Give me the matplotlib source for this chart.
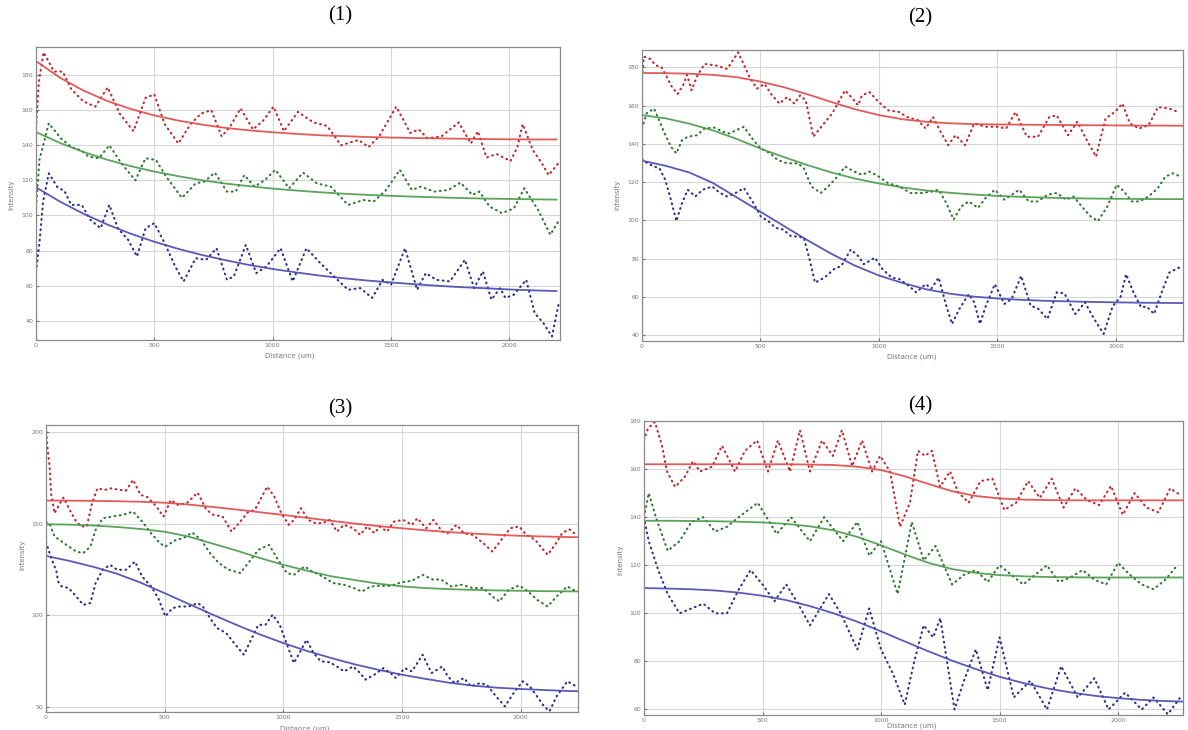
import numpy as np
import matplotlib
matplotlib.use("Agg")
import matplotlib.pyplot as plt

# ---- painel (1) ----
p1_red_x = [0, 12, 32, 76, 113, 149, 200, 251, 303, 354, 412, 463, 500, 544, 602, 653, 697, 741, 785, 822,
            865, 917, 960, 1004, 1048, 1107, 1173, 1231, 1289, 1363, 1406, 1450, 1523, 1582, 1618, 1655, 1713, 1787, 1838, 1868,
            1904, 1947, 2006, 2035, 2057, 2101, 2137, 2167, 2210]
p1_red_y = [150, 176, 193, 182, 182, 172, 165, 162, 173, 158, 148, 167, 169, 152, 141, 152, 158, 160, 145, 151,
            161, 149, 154, 162, 148, 159, 153, 151, 140, 143, 139, 145, 162, 147, 149, 144, 145, 153, 141, 148,
            133, 135, 131, 139, 152, 137, 130, 123, 130]
p1_green_x = [0, 15, 54, 105, 149, 193, 222, 266, 310, 361, 420, 463, 507, 551, 617, 675, 712, 756, 807, 844,
              880, 924, 968, 1012, 1070, 1129, 1187, 1246, 1319, 1385, 1428, 1480, 1538, 1589, 1626, 1684, 1743, 1794, 1845, 1874,
              1918, 1969, 2020, 2064, 2123, 2174, 2210]
p1_green_y = [105, 132, 152.5, 144, 139, 137, 133.5, 132.6, 140, 129.7, 120, 132.6, 131.6, 122, 110, 118.3, 119.3, 124.4, 113.6, 113.6,
              123, 116.4, 120.2, 126, 115.5, 124.4, 118.3, 116.4, 106, 108.8, 108, 114.5, 126, 114.5, 116.4, 113.6, 114.5, 118.7, 111.7, 113.6,
              105, 101.3, 104, 115.5, 103, 89, 97]
p1_blue_x = [0, 15, 30, 54, 91, 120, 149, 193, 230, 273, 310, 346, 390, 427, 463, 500, 544, 588, 624, 675,
             719, 763, 807, 836, 887, 931, 975, 1034, 1085, 1143, 1202, 1260, 1319, 1370, 1421, 1465, 1501, 1560, 1611, 1648,
             1692, 1750, 1813, 1852, 1889, 1925, 1962, 1984, 2020, 2072, 2108, 2145, 2181, 2210]
p1_blue_y = [68, 85, 108, 124, 116, 114, 106, 106, 97.5, 92.7, 106, 92.7, 86, 76.6, 92.7, 95.6, 84.2, 71, 62.4, 75.6,
             74.7, 81.3, 63.3, 65.2, 83.2, 67.1, 71, 81.3, 62.4, 81.3, 72.8, 65.2, 57.6, 58.6, 53, 63.3, 60.5, 81.3, 57.6, 67.1,
             63.3, 62.4, 74.7, 58.6, 68.1, 52, 58.6, 53, 54.8, 63.3, 44.3, 38.6, 31, 50]
p1_fit_red = [188, 178.6, 171.2, 165.3, 160.7, 157.0, 154.1, 151.8, 149.9, 148.5, 147.4, 146.5, 145.7, 145.2, 144.7,
              144.4, 144.1, 143.9, 143.7, 143.5, 143.4, 143.3, 143.3]
p1_fit_green = [147.5, 141.4, 136.2, 131.8, 128.1, 125.0, 122.4, 120.1, 118.2, 116.7, 115.3, 114.2, 113.2, 112.4, 111.7,
                111.2, 110.7, 110.3, 109.9, 109.6, 109.4, 109.2, 109.0]
p1_fit_blue = [116, 108, 101, 94.9, 89.6, 85.0, 81.0, 77.5, 74.5, 71.8, 69.5, 67.5, 65.7, 64.2, 62.9,
               61.8, 60.8, 59.9, 59.1, 58.5, 57.8, 57.3, 56.9]

# ---- painel (2) ----
p2_red_x = [0, 8, 35, 58, 82, 98, 125, 150, 175, 190, 209, 235, 264, 310, 359, 406, 454, 485, 517, 549,
            580, 612, 643, 667, 691, 723, 762, 802, 833, 857, 889, 912, 928, 960, 999, 1039, 1086, 1118, 1165, 1197,
            1228, 1260, 1292, 1323, 1363, 1402, 1450, 1497, 1537, 1576, 1624, 1671, 1719, 1750, 1798, 1837, 1877, 1916, 1956, 1995,
            2027, 2059, 2098, 2138, 2177, 2225, 2264]
p2_red_y = [175, 185.5, 184.3, 181, 180, 176.5, 170, 166, 171, 176, 168, 176, 181.7, 181, 179.1, 187.8, 174.8, 168.8, 171.3, 165.3,
            161, 164.4, 161, 165.3, 162.7, 143.7, 149.7, 155.8, 162.7, 167.9, 163.6, 160.1, 165.3, 167, 161.8, 157.5, 156.6, 154, 152.3, 148,
            154, 146.3, 139.3, 144.5, 139.3, 150.6, 148.9, 148.9, 148, 156.6, 143.7, 143.7, 154, 154.9, 144.5, 151.5, 141.9, 133.3, 153.2, 156.6,
            161, 150.6, 148, 149.7, 159.2, 158.4, 156.6]
p2_green_x = [0, 20, 51, 90, 122, 145, 169, 193, 232, 264, 304, 343, 367, 430, 470, 501, 541, 572, 612, 659,
              683, 715, 754, 786, 825, 857, 896, 928, 960, 999, 1039, 1086, 1134, 1181, 1221, 1252, 1284, 1315, 1347, 1379,
              1418, 1450, 1489, 1529, 1560, 1592, 1632, 1671, 1711, 1750, 1790, 1821, 1861, 1893, 1924, 1964, 2003, 2035, 2066, 2098,
              2138, 2177, 2209, 2240, 2272]
p2_green_y = [148, 156, 158.4, 147, 138.5, 135, 141.9, 143.7, 144.5, 148, 148.5, 146.3, 145.4, 148.9, 141.9, 137.6, 135, 131.6, 129.8, 129.8,
              127.2, 117.7, 114.3, 117.7, 122.9, 128.1, 125.5, 123.8, 125.5, 122.9, 119.4, 117.7, 114.3, 114.3, 115, 116, 109.1, 100.4, 107.3, 109.9,
              106.5, 111.7, 116, 110.8, 113.4, 116, 109.9, 109.9, 113.4, 114.3, 110.8, 112.5, 106.5, 102.1, 99.6, 107.3, 118.6, 115, 109.9, 109.9,
              112.5, 116.9, 122.9, 124.6, 122.9]
p2_blue_x = [0, 11, 51, 74, 98, 122, 145, 169, 193, 225, 256, 296, 327, 359, 391, 430, 470, 501, 533, 564,
             596, 628, 659, 683, 707, 730, 770, 810, 841, 881, 912, 936, 983, 1015, 1054, 1086, 1126, 1157, 1197, 1221,
             1252, 1284, 1308, 1339, 1379, 1402, 1426, 1450, 1489, 1529, 1560, 1600, 1640, 1671, 1711, 1750, 1782, 1829, 1869, 1908,
             1948, 1987, 2019, 2043, 2074, 2106, 2130, 2161, 2193, 2225, 2264, 2280]
p2_blue_y = [132, 130.7, 128.1, 127.2, 121.2, 110.8, 99.6, 109.1, 116, 112.5, 116, 117.7, 114.5, 112.5, 114, 116.9, 109.1, 102.1, 99.6, 96.1,
             95.2, 91.8, 91.5, 90.9, 79.7, 67.5, 70.1, 74.5, 76.2, 84.8, 81.4, 77.1, 80.5, 74.5, 70.1, 69.3, 65.8, 62.4, 66.7, 64.4,
             70.1, 55.4, 45.9, 53.7, 61.5, 57.2, 45.9, 55, 66.7, 56.3, 59, 71, 55.4, 54, 48.5, 62.4, 62, 51.1, 57.2, 48.5,
             40.7, 55.4, 59.8, 71.9, 62.4, 54.6, 55, 51.1, 62.4, 72.7, 75.3, 74.5]
p2_fit_red = [177, 176.9, 176.6, 176, 174.8, 172.5, 169.5, 165.8, 161.8, 158, 155, 152.8, 151.5, 150.7, 150.3, 150.1,
              150, 149.9, 149.8, 149.7, 149.6, 149.5, 149.5, 149.4]
p2_fit_green = [155, 153.3, 150.5, 147, 142.5, 137.5, 133, 128.8, 125, 121.8, 119.3, 117.2, 115.6, 114.4, 113.5, 112.8,
                112.3, 111.9, 111.6, 111.4, 111.3, 111.2, 111.1, 111.1]
p2_fit_blue = [131.2, 128.5, 125, 119.5, 112, 104.5, 97, 89.5, 82.5, 76.3, 71.2, 67.3, 64, 61.7, 60.2, 59.2,
               58.5, 58, 57.7, 57.4, 57.2, 57.0, 56.9, 56.8]

# ---- painel (3) ----
p3_red_x = [0, 5, 10, 15, 22, 36, 59, 74, 96, 127, 149, 172, 194, 217, 247, 277, 307, 337, 367, 398,
            428, 465, 495, 526, 556, 593, 639, 676, 706, 744, 782, 819, 849, 880, 910, 932, 962, 992, 1023, 1045,
            1075, 1105, 1136, 1166, 1196, 1226, 1256, 1294, 1324, 1354, 1384, 1407, 1437, 1467, 1505, 1542, 1565, 1602, 1633, 1670,
            1693, 1730, 1761, 1798, 1843, 1881, 1919, 1956, 1994, 2024, 2062, 2084, 2114, 2145, 2175, 2205, 2235]
p3_red_y = [203, 193, 187, 182, 166, 155.7, 161.2, 164.3, 158.5, 151.2, 148.5, 148.5, 161.2, 169.4, 168.5, 169.4, 168.5, 168.1, 174, 165.8,
            164.5, 159.4, 153.9, 163, 160.3, 161.2, 167, 157.6, 154.8, 154, 145.7, 151.2, 156.1, 157.6, 164.8, 170.3, 164.8, 155.7, 149.4, 152.1,
            158.5, 152.1, 150.3, 150.3, 152.1, 145.7, 149.4, 147.5, 143.9, 148.5, 144.8, 148.5, 145.7, 151.2, 152.1, 149.4, 153, 147.5, 152.1, 145.7,
            144.8, 149.4, 144.8, 143.9, 139.3, 134.8, 141.2, 147.5, 148.5, 143.9, 141.2, 137.5, 133, 138.4, 144.8, 147, 143.9]
p3_green_x = [0, 15, 36, 66, 96, 127, 157, 187, 209, 239, 277, 322, 367, 405, 443, 480, 503, 548, 578, 616,
              654, 691, 729, 767, 819, 857, 895, 940, 977, 1015, 1045, 1068, 1090, 1120, 1166, 1211, 1256, 1294, 1331, 1369,
              1407, 1452, 1497, 1542, 1587, 1633, 1663, 1708, 1753, 1798, 1843, 1881, 1911, 1949, 1994, 2032, 2069, 2114, 2152, 2197,
              2235]
p3_green_y = [151, 150, 143, 140.3, 137.5, 134.8, 133.9, 137.5, 146.6, 153, 153.9, 154.8, 156.6, 151.2, 144.8, 139.3, 137.5, 141.2, 142, 145.2,
              141.2, 133.9, 128.4, 125, 123, 129.3, 135.7, 138.4, 130.5, 123, 122, 124.5, 126.6, 124, 121.1, 117.5, 116.6, 115, 112.9, 115.7,
              116, 116, 117.9, 118.8, 122, 119.3, 119.6, 115.7, 116.6, 114.8, 114.8, 110.2, 107.5, 113.8, 116.2, 113, 108.4, 104.7, 110.2, 115.7,
              112.9]
p3_blue_x = [0, 20, 44, 51, 66, 96, 127, 157, 187, 209, 239, 270, 300, 337, 375, 405, 443, 473, 503, 533,
             563, 601, 639, 661, 691, 721, 759, 804, 834, 864, 895, 925, 955, 985, 1008, 1045, 1068, 1098, 1128, 1158,
             1196, 1226, 1256, 1294, 1324, 1346, 1384, 1422, 1452, 1474, 1512, 1542, 1587, 1625, 1670, 1693, 1723, 1761, 1791, 1828,
             1858, 1896, 1934, 1971, 2009, 2039, 2069, 2099, 2122, 2152, 2197, 2235]
p3_blue_y = [140, 132, 123.9, 118.4, 115.7, 114.8, 110.2, 105.6, 106.6, 117.5, 124.8, 127.5, 124.8, 124.8, 129.3, 121.1, 115.7, 109.3, 99.3, 103.8,
             104.7, 104.7, 106.6, 104.7, 98.4, 92.9, 90.2, 82.9, 78.3, 86.5, 94.7, 94.7, 100.2, 94.7, 86.5, 73.8, 79.2, 86.5, 79.2, 74.7,
             74.2, 71.9, 69.2, 71.9, 68.3, 64.7, 67.4, 71, 68.3, 65.6, 71, 69.2, 78.3, 68.3, 71.9, 66.5, 62.8, 65.6, 61, 62.8,
             61.9, 55.6, 50.1, 57.4, 63.8, 61, 55.6, 50.1, 47.4, 55.6, 63.8, 61]
p3_fit_red = [162.7, 162.6, 162.5, 162.3, 162, 161.5, 160.5, 159.2, 157.8, 156.3, 154.8, 153.2, 151.6, 150.1, 148.7, 147.5,
              146.4, 145.4, 144.6, 143.9, 143.4, 143, 142.7, 142.5]
p3_fit_green = [149.7, 149.5, 149, 148.2, 147.1, 145.6, 143, 139.2, 135.4, 131.3, 127.5, 124.3, 121.3, 119.2, 117.2, 115.7,
                114.8, 114.2, 113.8, 113.5, 113.3, 113.1, 113, 112.9]
p3_fit_blue = [132.4, 129.6, 126.4, 122.6, 117.7, 112, 106.2, 100.4, 94.8, 89.5, 84.7, 80.4, 76.6, 73.1, 70.1, 67.4,
               65.1, 63, 61.4, 60.3, 59.6, 59, 58.5, 58.2]

# ---- painel (4) ----
p4_red_x = [0, 17, 46, 76, 97, 131, 173, 207, 236, 287, 329, 384, 426, 477, 523, 565, 616, 658, 700, 751,
            797, 835, 878, 920, 962, 996, 1038, 1080, 1122, 1156, 1186, 1215, 1249, 1291, 1325, 1370, 1420, 1470, 1520, 1570,
            1620, 1670, 1720, 1770, 1820, 1870, 1920, 1970, 2020, 2070, 2120, 2170, 2220, 2265]
p4_red_y = [172, 177, 179.6, 169.7, 159, 152.6, 156.9, 163.3, 159, 161, 169.7, 159, 167.6, 171.9, 159, 171.9, 159, 176.2, 159, 171.9,
            165.5, 176.2, 161.2, 171.9, 159, 165.5, 159, 136, 146, 167.6, 165.5, 167.6, 152.6, 159, 150.4, 146, 155, 156, 143, 146,
            155, 148, 156, 144, 152, 147, 145, 153, 141, 150, 144, 142, 152, 149]
p4_green_x = [0, 20, 50, 100, 150, 200, 250, 300, 350, 400, 480, 560, 620, 700, 760, 840, 900, 950, 1000, 1070,
              1130, 1180, 1230, 1300, 1350, 1400, 1450, 1500, 1550, 1600, 1650, 1700, 1750, 1800, 1850, 1900, 1950, 2000, 2050, 2100,
              2150, 2200, 2250]
p4_green_y = [140, 150, 140, 126, 130, 138, 140, 134, 136, 140, 146, 133, 140, 130, 140, 130, 138, 124, 130, 108,
              138, 122, 128, 112, 116, 118, 113, 120, 116, 112, 116, 120, 113, 115, 118, 114, 112, 121, 116, 112,
              110, 114, 120]
p4_blue_x = [0, 20, 60, 100, 150, 200, 250, 300, 350, 400, 450, 500, 550, 600, 650, 700, 780, 830, 900, 950,
             1000, 1050, 1100, 1140, 1180, 1220, 1250, 1310, 1350, 1400, 1450, 1500, 1560, 1630, 1700, 1760, 1830, 1900, 1960, 2030,
             2100, 2150, 2210, 2270]
p4_blue_y = [140, 130, 118, 108, 100, 102, 104, 100, 100, 110, 118, 112, 105, 112, 104, 95, 108, 100, 85, 102,
             85, 75, 62, 80, 95, 90, 98, 60, 72, 85, 68, 90, 65, 72, 60, 78, 65, 73, 60, 67,
             60, 65, 58, 66]
p4_fit_red = [162, 162, 162, 162, 162, 162, 162, 161.9, 161.7, 161, 159.6, 157, 153.8, 150.8, 148.8, 147.8,
              147.3, 147.1, 147, 147, 147, 147, 147, 147]
p4_fit_green = [138.5, 138.5, 138.4, 138.3, 138.1, 137.8, 137.2, 136.2, 134.5, 131.8, 128.3, 124.5, 121, 118.4, 116.8, 115.9,
                115.4, 115.1, 115, 114.9, 114.9, 114.9, 114.9, 114.9]
p4_fit_blue = [110.5, 110.3, 110, 109.5, 108.6, 107.3, 105.5, 103, 100, 96.5, 92.5, 88.3, 84.2, 80.3, 76.8, 73.6,
               71, 68.8, 67.1, 65.7, 64.7, 64, 63.5, 63.2]

x_ticks = [0, 500, 1000, 1500, 2000]

W, H = 1188, 730
fig = plt.figure(figsize=(W / 100, H / 100), dpi=100)
fig.patch.set_facecolor("white")

cor_dot = {"r": "#c0282c", "g": "#2b7a2b", "b": "#2a2f8f"}
cor_fit = {"r": "#e04848", "g": "#4a9a4a", "b": "#4848b0"}


def eixo(px_left, px_top, px_right, px_bottom):
    return fig.add_axes([px_left / W, 1 - px_bottom / H, (px_right - px_left) / W, (px_bottom - px_top) / H])


def painel(ax, series, fits, xmax, ylim, yticks):
    fit_x = np.arange(0, 100 * len(fits[0]), 100)
    for (sx, sy), c in zip(series, "rgb"):
        ax.plot(sx, sy, ls=(0, (0.4, 2.1)), lw=1.5, color=cor_dot[c], dash_capstyle="round")
    for fy, c in zip(fits, "rgb"):
        ax.plot(fit_x, fy, lw=1.3, color=cor_fit[c], alpha=0.9)
    ax.set_xlim(0, xmax)
    ax.set_ylim(*ylim)
    ax.set_xticks(x_ticks)
    ax.set_yticks(yticks)
    ax.grid(True, color="#d6d6d6", lw=0.8)
    ax.set_axisbelow(True)
    ax.tick_params(labelsize=4.5, colors="#777777", length=2, direction="in", pad=2)
    for s in ax.spines.values():
        s.set_color("#8a8a8a")
        s.set_linewidth(0.9)


def texto(px, py, s, **kw):
    fig.text(px / W, 1 - py / H, s, **kw)


ax1 = eixo(36, 47, 560, 340)
painel(ax1, [(p1_red_x, p1_red_y), (p1_green_x, p1_green_y), (p1_blue_x, p1_blue_y)],
       [p1_fit_red, p1_fit_green, p1_fit_blue], 2215, (29, 196), range(40, 181, 20))

ax2 = eixo(642, 50, 1183, 341)
painel(ax2, [(p2_red_x, p2_red_y), (p2_green_x, p2_green_y), (p2_blue_x, p2_blue_y)],
       [p2_fit_red, p2_fit_green, p2_fit_blue], 2283, (37, 189), range(40, 181, 20))

ax3 = eixo(46, 425, 578, 712)
painel(ax3, [(p3_red_x, p3_red_y), (p3_green_x, p3_green_y), (p3_blue_x, p3_blue_y)],
       [p3_fit_red, p3_fit_green, p3_fit_blue], 2242, (47, 204), [50, 100, 150, 200])

ax4 = eixo(644, 421, 1183, 715)
painel(ax4, [(p4_red_x, p4_red_y), (p4_green_x, p4_green_y), (p4_blue_x, p4_blue_y)],
       [p4_fit_red, p4_fit_green, p4_fit_blue], 2274, (57.7, 180), range(60, 181, 20))

# titulos (1)...(4)
tit = dict(ha="center", va="center", fontsize=15, family="Liberation Serif")
texto(340, 16, "(1)", **tit)
texto(920, 18, "(2)", **tit)
texto(340, 409, "(3)", **tit)
texto(920, 406, "(4)", **tit)

lab = dict(ha="center", va="center", fontsize=5, color="#777777")
texto(11, 195, "Intensity", rotation=90, **lab)
texto(617, 195, "Intensity", rotation=90, **lab)
texto(22, 555, "Intensity", rotation=90, **lab)
texto(620, 560, "Intensity", rotation=90, **lab)
texto(290, 356, "Distance (um)", **lab)
texto(912, 357, "Distance (um)", **lab)
texto(305, 729, "Distance (um)", **lab)
texto(912, 726, "Distance (um)", **lab)

fig.savefig("out.png", dpi=100, facecolor="white")
